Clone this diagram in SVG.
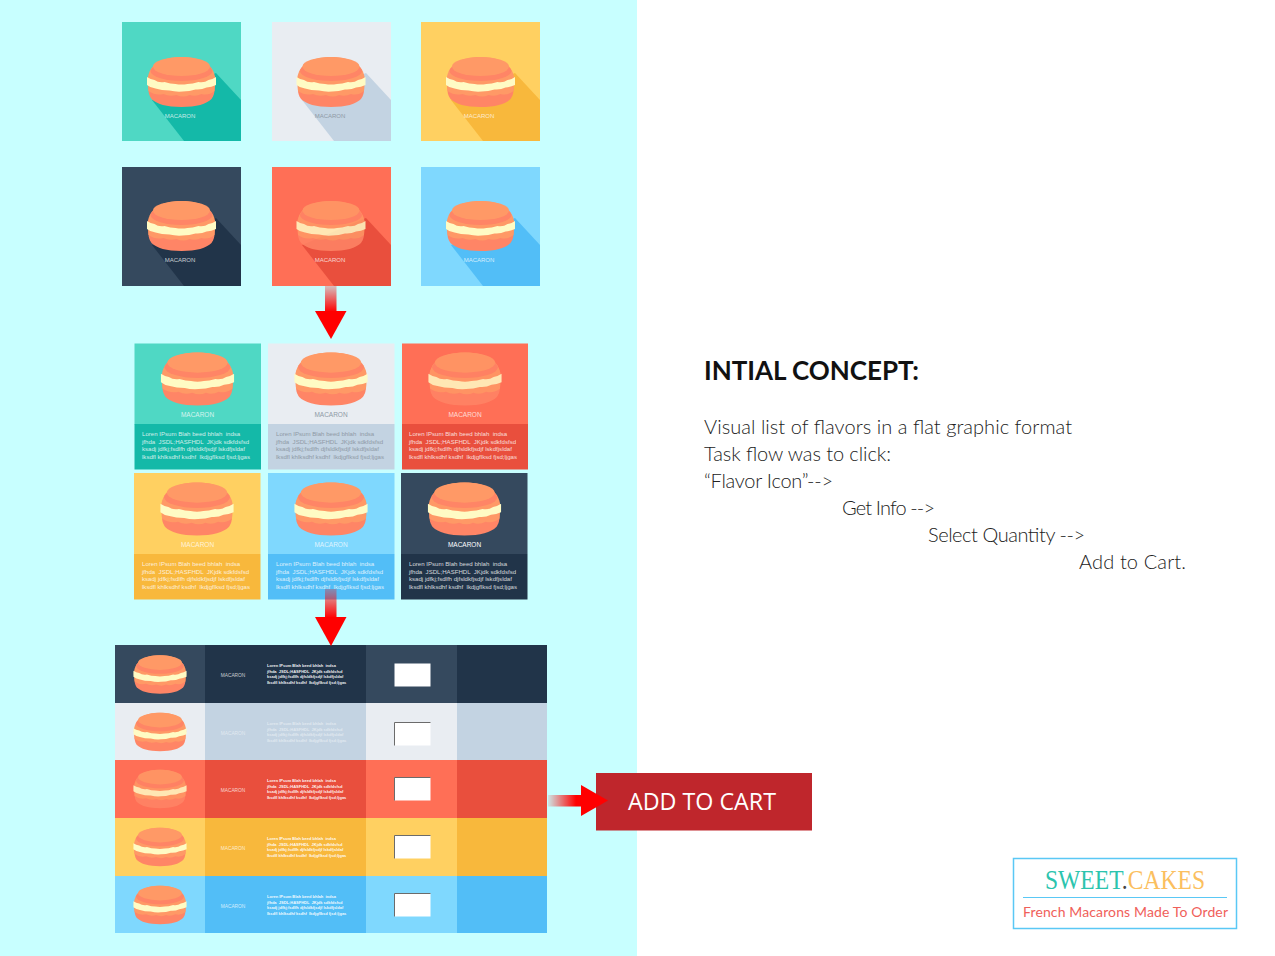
<svg xmlns="http://www.w3.org/2000/svg" width="1275" height="956" viewBox="0 0 1275 956">
<style>
text{font-family:"Liberation Sans",Arial,sans-serif;white-space:pre}
.lab{text-anchor:middle;fill:#fff;fill-opacity:.75}
.t1{font-size:6px}.t2{font-size:6.500px}.t3{font-size:4.800px}
.b2{font-size:6.100px;fill:#fff;fill-opacity:.8}
.b3{font-size:4px;fill:#fff;fill-opacity:.95;font-weight:bold}
.g{fill:#8f9aa6;fill-opacity:1}
.pale{fill:#fff;fill-opacity:.5}
.h,.p{font-family:Lato,"Noto Sans",sans-serif;fill:#222}
.h{font-size:26px;font-weight:700;fill:#111}
.p{font-size:20px;font-weight:300}
.tl{fill:#4fd8c4}.td{fill:#14b9a8}.gl{fill:#e9edf2}.gd{fill:#c3d3e2}.yl{fill:#ffd061}.yd{fill:#f8b83c}
.nl{fill:#35495e}.nd{fill:#213449}.rl{fill:#ff6f56}.rd{fill:#e94f3d}.bl{fill:#7fd8fe}.bd{fill:#52bef7}
.box{fill:#fff}.edge{fill:none;stroke:#6b6b6b;stroke-width:1}
.soft{opacity:.86}
.logo{font-family:"Liberation Serif",serif;font-size:28px}
</style>
<defs>
<g id="mac">
<path d="M-34,0C-34,-16 -22,-25 0,-25C22,-25 34,-16 34,0C20,6 -20,6 -34,0Z" fill="#ff9966"/>
<ellipse cx="0" cy="-11" rx="31" ry="10" fill="#ff8566"/>
<ellipse cx="0" cy="-15.500" rx="28.500" ry="9.500" fill="#ff9966"/>
<path d="M-33,3L33,3C33.500,11 32,14 30,17C25,22 15,25 0,25C-15,25 -25,22 -30,17C-32,14 -33.500,11 -33,3Z" fill="#ff8566"/>
<path d="M-33.500,3L33.500,3L33,9Q27,14 20,12Q14,15 8,13Q2,16 -5,13Q-12,15 -18,12Q-26,14 -33,9Z" fill="#ff9966"/>
<path d="M-34.500,-5Q-31,-2.500 -27,-2Q-23,1 -17,0Q-11,2 -6,2Q0,3 6,2Q11,2 17,0Q23,1 27,-2Q31,-2.500 34.500,-5L34.500,3Q30,5 25,5.500Q20,8 14,7.500Q8,9.500 1,9.500Q-6,10 -12,8.500Q-20,8.500 -26,6.500Q-31,6 -34.500,3Z" fill="#fffbc4"/>
</g>
<linearGradient id="fadeV" x1="0" y1="0" x2="0" y2="1"><stop offset="0" stop-color="#f00" stop-opacity=".25"/><stop offset="1" stop-color="#f00"/></linearGradient>
<linearGradient id="fadeH" x1="0" y1="0" x2="1" y2="0"><stop offset="0" stop-color="#f00" stop-opacity=".1"/><stop offset=".8" stop-color="#f00"/></linearGradient>
</defs>
<rect x="0" y="0" width="1275" height="956" fill="#fff"/>
<rect x="0" y="0" width="637" height="956" fill="#c8ffff"/>

<g id="tile-teal"><rect class="tl" x="122" y="22" width="119" height="119"/><path class="td" d="M216,73L241,100V141H184L152,100Z"/><use href="#mac" x="181.500" y="82"/><text class="lab t1" x="180" y="118">MACARON</text></g>
<g id="tile-gray"><rect class="gl" x="272" y="22" width="119" height="119"/><path class="gd" d="M366,73L391,100V141H334L302,100Z"/><use href="#mac" x="331" y="82"/><text class="lab t1 g" x="330" y="118">MACARON</text></g>
<g id="tile-yellow"><rect class="yl" x="421" y="22" width="119" height="119"/><path class="yd" d="M515,73L540,100V141H483L451,100Z"/><use href="#mac" x="480.500" y="82"/><text class="lab t1" x="479" y="118">MACARON</text></g>
<g id="tile-navy"><rect class="nl" x="122" y="167" width="119" height="119"/><path class="nd" d="M216,218L241,245V286H184L152,245Z"/><use href="#mac" x="181.500" y="226"/><text class="lab t1" x="180" y="262">MACARON</text></g>
<g id="tile-red"><rect class="rl" x="272" y="167" width="119" height="119"/><path class="rd" d="M366,218L391,245V286H334L302,245Z"/><use class="soft" href="#mac" x="331" y="226"/><text class="lab t1" x="330" y="262">MACARON</text></g>
<g id="tile-blue"><rect class="bl" x="421" y="167" width="119" height="119"/><path class="bd" d="M515,218L540,245V286H483L451,245Z"/><use href="#mac" x="480.500" y="226"/><text class="lab t1" x="479" y="262">MACARON</text></g>

<g id="card-teal"><rect class="tl" x="134.500" y="343.500" width="126.500" height="81"/><rect class="td" x="134.500" y="424" width="126.500" height="45.500"/><use href="#mac" transform="translate(197.500 379) scale(1.06)"/><text class="lab t2" x="197.500" y="417">MACARON</text><text class="b2"><tspan x="142" y="436">Loren IPsum Blah beed bhlah  indsa</tspan><tspan x="142" y="443.500">jfhda  JSDL;HASFHDL  JKjdk sdkfdsfsd</tspan><tspan x="142" y="451">ksadj jdfkj;fsdlfh djfsldkfjsdjf lskdfjsldaf</tspan><tspan x="142" y="458.500">lksdfl khlksdhf ksdhf  lkdjgflksd fjsd;ljgas</tspan></text></g>
<g id="card-gray"><rect class="gl" x="268" y="343.500" width="126.500" height="81"/><rect class="gd" x="268" y="424" width="126.500" height="45.500"/><use href="#mac" transform="translate(331 379) scale(1.06)"/><text class="lab t2 g" x="331" y="417">MACARON</text><text class="b2 g"><tspan x="276" y="436">Loren IPsum Blah beed bhlah  indsa</tspan><tspan x="276" y="443.500">jfhda  JSDL;HASFHDL  JKjdk sdkfdsfsd</tspan><tspan x="276" y="451">ksadj jdfkj;fsdlfh djfsldkfjsdjf lskdfjsldaf</tspan><tspan x="276" y="458.500">lksdfl khlksdhf ksdhf  lkdjgflksd fjsd;ljgas</tspan></text></g>
<g id="card-red"><rect class="rl" x="402" y="343.500" width="126" height="81"/><rect class="rd" x="402" y="424" width="126" height="45.500"/><use class="soft" href="#mac" transform="translate(465 379) scale(1.06)"/><text class="lab t2" x="465" y="417">MACARON</text><text class="b2"><tspan x="409" y="436">Loren IPsum Blah beed bhlah  indsa</tspan><tspan x="409" y="443.500">jfhda  JSDL;HASFHDL  JKjdk sdkfdsfsd</tspan><tspan x="409" y="451">ksadj jdfkj;fsdlfh djfsldkfjsdjf lskdfjsldaf</tspan><tspan x="409" y="458.500">lksdfl khlksdhf ksdhf  lkdjgflksd fjsd;ljgas</tspan></text></g>
<g id="card-yellow"><rect class="yl" x="134" y="473" width="126.500" height="81"/><rect class="yd" x="134" y="554" width="126.500" height="45.500"/><use href="#mac" transform="translate(197 509) scale(1.06)"/><text class="lab t2" x="197.500" y="547">MACARON</text><text class="b2"><tspan x="142" y="566">Loren IPsum Blah beed bhlah  indsa</tspan><tspan x="142" y="573.500">jfhda  JSDL;HASFHDL  JKjdk sdkfdsfsd</tspan><tspan x="142" y="581">ksadj jdfkj;fsdlfh djfsldkfjsdjf lskdfjsldaf</tspan><tspan x="142" y="588.500">lksdfl khlksdhf ksdhf  lkdjgflksd fjsd;ljgas</tspan></text></g>
<g id="card-blue"><rect class="bl" x="268" y="473" width="126.500" height="81"/><rect class="bd" x="268" y="554" width="126.500" height="45.500"/><use href="#mac" transform="translate(331 509) scale(1.06)"/><text class="lab t2" x="331" y="547">MACARON</text><text class="b2"><tspan x="276" y="566">Loren IPsum Blah beed bhlah  indsa</tspan><tspan x="276" y="573.500">jfhda  JSDL;HASFHDL  JKjdk sdkfdsfsd</tspan><tspan x="276" y="581">ksadj jdfkj;fsdlfh djfsldkfjsdjf lskdfjsldaf</tspan><tspan x="276" y="588.500">lksdfl khlksdhf ksdhf  lkdjgflksd fjsd;ljgas</tspan></text></g>
<g id="card-navy"><rect class="nl" x="401" y="473" width="126.500" height="81"/><rect class="nd" x="401" y="554" width="126.500" height="45.500"/><use href="#mac" transform="translate(464.500 509) scale(1.06)"/><text class="lab t2" style="fill-opacity:1" x="464.500" y="547">MACARON</text><text class="b2"><tspan x="409" y="566">Loren IPsum Blah beed bhlah  indsa</tspan><tspan x="409" y="573.500">jfhda  JSDL;HASFHDL  JKjdk sdkfdsfsd</tspan><tspan x="409" y="581">ksadj jdfkj;fsdlfh djfsldkfjsdjf lskdfjsldaf</tspan><tspan x="409" y="588.500">lksdfl khlksdhf ksdhf  lkdjgflksd fjsd;ljgas</tspan></text></g>

<g id="row-navy"><rect class="nd" x="115" y="645" width="432" height="58"/><rect class="nl" x="115" y="645" width="90" height="58"/><rect class="nl" x="366" y="645" width="91" height="58"/><use href="#mac" transform="translate(160 674.500) scale(.77)"/><text class="lab t3" x="233" y="677">MACARON</text><text class="b3"><tspan x="267" y="667">Loren IPsum Blah beed bhlah  indsa</tspan><tspan x="267" y="672.500">jfhda  JSDL;HASFHDL  JKjdk sdkfdsfsd</tspan><tspan x="267" y="678">ksadj jdfkj;fsdlfh djfsldkfjsdjf lskdfjsldaf</tspan><tspan x="267" y="683.500">lksdfl khlksdhf ksdhf  lkdjgflksd fjsd;ljgas</tspan></text><rect class="box" x="394.500" y="663.500" width="36" height="23"/></g>
<g id="row-gray"><rect class="gd" x="115" y="703" width="432" height="57"/><rect class="gl" x="115" y="703" width="90" height="57"/><rect class="gl" x="366" y="703" width="91" height="57"/><use href="#mac" transform="translate(160 732) scale(.77)"/><text class="lab t3 pale" x="233" y="735">MACARON</text><text class="b3 pale"><tspan x="267" y="725">Loren IPsum Blah beed bhlah  indsa</tspan><tspan x="267" y="730.500">jfhda  JSDL;HASFHDL  JKjdk sdkfdsfsd</tspan><tspan x="267" y="736">ksadj jdfkj;fsdlfh djfsldkfjsdjf lskdfjsldaf</tspan><tspan x="267" y="741.500">lksdfl khlksdhf ksdhf  lkdjgflksd fjsd;ljgas</tspan></text><rect class="box" x="394.500" y="722.500" width="36" height="23"/><path class="edge" d="M394.500,745.500V722.500H430.500"/></g>
<g id="row-red"><rect class="rd" x="115" y="760" width="432" height="58"/><rect class="rl" x="115" y="760" width="90" height="58"/><rect class="rl" x="366" y="760" width="91" height="58"/><use class="soft" href="#mac" transform="translate(160 789) scale(.77)"/><text class="lab t3" x="233" y="792">MACARON</text><text class="b3"><tspan x="267" y="782">Loren IPsum Blah beed bhlah  indsa</tspan><tspan x="267" y="787.500">jfhda  JSDL;HASFHDL  JKjdk sdkfdsfsd</tspan><tspan x="267" y="793">ksadj jdfkj;fsdlfh djfsldkfjsdjf lskdfjsldaf</tspan><tspan x="267" y="798.500">lksdfl khlksdhf ksdhf  lkdjgflksd fjsd;ljgas</tspan></text><rect class="box" x="394.500" y="777.500" width="36" height="23"/><path class="edge" d="M394.500,800.500V777.500H430.500"/></g>
<g id="row-yellow"><rect class="yd" x="115" y="818" width="432" height="58"/><rect class="yl" x="115" y="818" width="90" height="58"/><rect class="yl" x="366" y="818" width="91" height="58"/><use href="#mac" transform="translate(160 847) scale(.77)"/><text class="lab t3" x="233" y="850">MACARON</text><text class="b3"><tspan x="267" y="840">Loren IPsum Blah beed bhlah  indsa</tspan><tspan x="267" y="845.500">jfhda  JSDL;HASFHDL  JKjdk sdkfdsfsd</tspan><tspan x="267" y="851">ksadj jdfkj;fsdlfh djfsldkfjsdjf lskdfjsldaf</tspan><tspan x="267" y="856.500">lksdfl khlksdhf ksdhf  lkdjgflksd fjsd;ljgas</tspan></text><rect class="box" x="394.500" y="835.500" width="36" height="23"/><path class="edge" d="M394.500,858.500V835.500H430.500"/></g>
<g id="row-blue"><rect class="bd" x="115" y="876" width="432" height="57"/><rect class="bl" x="115" y="876" width="90" height="57"/><rect class="bl" x="366" y="876" width="91" height="57"/><use href="#mac" transform="translate(160 905) scale(.77)"/><text class="lab t3" x="233" y="908">MACARON</text><text class="b3"><tspan x="267" y="898">Loren IPsum Blah beed bhlah  indsa</tspan><tspan x="267" y="903.500">jfhda  JSDL;HASFHDL  JKjdk sdkfdsfsd</tspan><tspan x="267" y="909">ksadj jdfkj;fsdlfh djfsldkfjsdjf lskdfjsldaf</tspan><tspan x="267" y="914.500">lksdfl khlksdhf ksdhf  lkdjgflksd fjsd;ljgas</tspan></text><rect class="box" x="394.500" y="893.500" width="36" height="23"/><path class="edge" d="M394.500,916.500V893.500H430.500"/></g>

<g id="add-to-cart"><rect x="596" y="773" width="216" height="57.500" fill="#bf262c"/><text x="628" y="810" font-size="24" fill="#fff" textLength="148" lengthAdjust="spacingAndGlyphs" style="font-family:'Open Sans',sans-serif">ADD TO CART</text></g>

<g id="connectors">
<rect x="325" y="286" width="11.500" height="26" fill="url(#fadeV)"/><path d="M315,311H346.500L331,339Z" fill="#f00"/>
<rect x="325" y="589" width="11.500" height="29" fill="url(#fadeV)"/><path d="M315,617H346.500L331,646Z" fill="#f00"/>
<rect x="548" y="795" width="35" height="11.500" fill="url(#fadeH)"/><path d="M581,785V816L608,800.500Z" fill="#f00"/>
</g>

<g id="concept-text">
<text class="h" x="704" y="380" textLength="215">INTIAL CONCEPT:</text>
<text class="p" x="704" y="434" textLength="368">Visual list of flavors in a flat graphic format</text>
<text class="p" x="704" y="461" textLength="187">Task flow was to click:</text>
<text class="p" x="704" y="488" textLength="129">“Flavor Icon”--&gt;</text>
<text class="p" x="842" y="514.500" textLength="93">Get Info --&gt;</text>
<text class="p" x="928" y="541.500" textLength="157">Select Quantity --&gt;</text>
<text class="p" x="1079" y="568.500" textLength="107">Add to Cart.</text>
</g>

<g id="logo">
<rect x="1013.500" y="858.500" width="223" height="70" fill="#fff" stroke="#5ac8f5" stroke-width="1.500"/>
<text class="logo" x="1045" y="889" textLength="160" lengthAdjust="spacingAndGlyphs"><tspan fill="#2cc4ae">SWEET</tspan><tspan fill="#444">.</tspan><tspan fill="#fbbf5f">CAKES</tspan></text>
<line x1="1023" y1="897.500" x2="1227" y2="897.500" stroke="#5ac8f5"/>
<text x="1023" y="917" font-size="14" fill="#f0605a" textLength="205" style="font-family:Lato,sans-serif">French Macarons Made To Order</text>
</g>
</svg>
